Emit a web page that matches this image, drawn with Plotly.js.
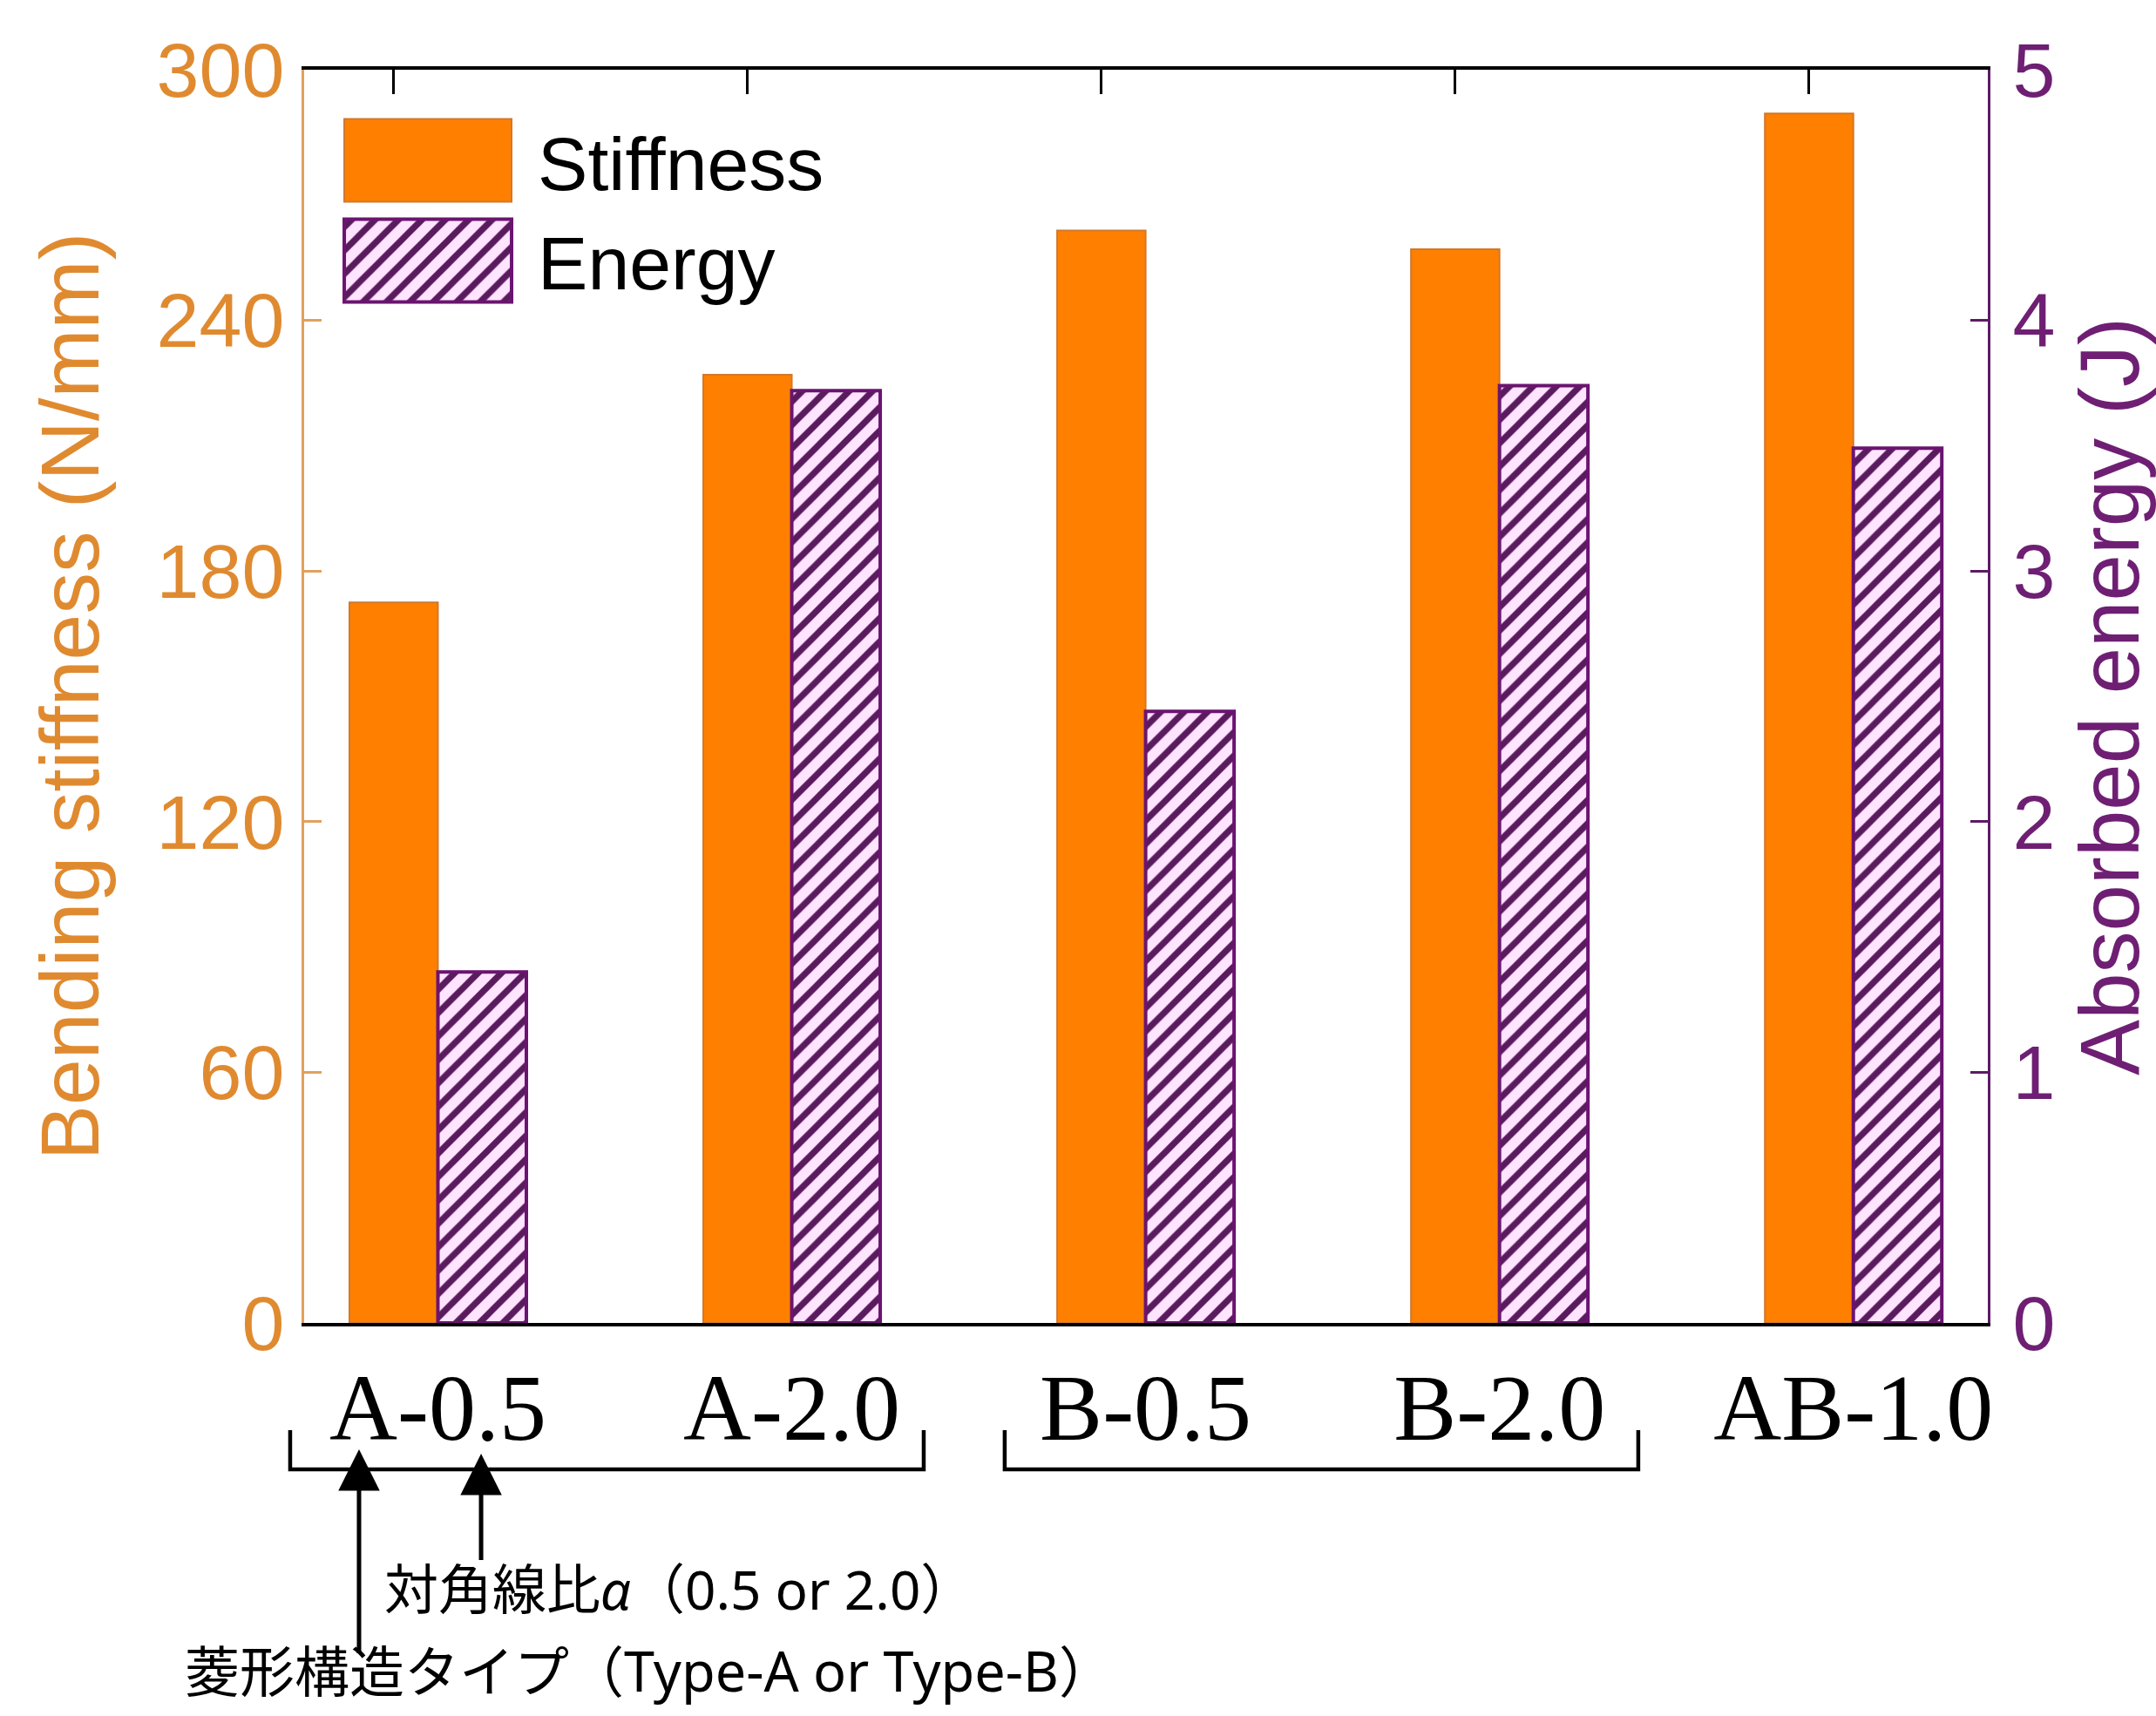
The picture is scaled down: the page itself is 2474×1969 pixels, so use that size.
<!DOCTYPE html>
<html>
<head>
<meta charset="utf-8">
<script src="https://cdn.plot.ly/plotly-3.0.1.min.js"></script>
<style>
html,body{margin:0;padding:0;background:#fff;}
#chart{width:2474px;height:1969px;}
</style>
</head>
<body>
<div id="chart"></div>
<script>
// ---- data ----
const categories = ['A-0.5', 'A-2.0', 'B-0.5', 'B-2.0', 'AB-1.0'];
const stiffness = [172.5, 227.0, 261.5, 257.0, 289.5];   // N/mm (left axis)
const energy = [1.40, 3.72, 2.44, 3.74, 3.49];           // J (right axis)
const stiffnessTicks = [0, 60, 120, 180, 240, 300];
const energyTicks = [0, 1, 2, 3, 4, 5];
const seriesNames = ['Stiffness', 'Energy'];
const noteAlpha = '対角線比<i>α</i>（0.5 or 2.0）';
const noteType = '菱形構造タイプ（Type-A or Type-B）';

// ---- styles ----
const ORANGE = '#FF8000';
const ORANGE_EDGE = '#D0782E';
const ORANGE_AXIS = '#E2A05E';
const ORANGE_TEXT = '#E08A30';
const PURPLE = '#6A1470';
const PURPLE_AXIS = '#5E1A66';
const PURPLE_TEXT = '#6E1F73';
const barW = 0.25;
const xRange = [-0.378, 4.38];
const sans = 'Liberation Sans, Arial, sans-serif';
const serif = 'Liberation Serif, Times New Roman, serif';
const jp = 'Noto Sans, Noto Sans CJK JP, sans-serif';

const data = [
  {
    // bottom axis: categories at the centre of each bar pair
    type: 'bar', name: seriesNames[0], x: categories, y: stiffness,
    xaxis: 'x', yaxis: 'y',
    width: barW, offset: -barW,
    marker: {color: ORANGE, line: {color: ORANGE_EDGE, width: 2}}
  },
  {
    // top axis: categories at the centre of each stiffness bar (tick marks there)
    type: 'bar', name: seriesNames[1], x: categories, y: energy,
    xaxis: 'x2', yaxis: 'y2',
    width: barW, offset: barW / 2,
    marker: {
      color: '#FFE4FF',
      line: {color: PURPLE, width: 4},
      pattern: {shape: '/', bgcolor: '#FFE4FF', fgcolor: '#5A1A5E', size: 19, solidity: 0.38, fillmode: 'replace'}
    }
  }
];

const layout = {
  width: 2474, height: 1969,
  paper_bgcolor: '#fff', plot_bgcolor: '#fff',
  margin: {l: 349, r: 193, t: 80, b: 451, pad: 0},
  barmode: 'overlay',
  showlegend: true,
  legend: {
    x: 0.0083, y: 0.971, xanchor: 'left', yanchor: 'top',
    bgcolor: 'rgba(0,0,0,0)', borderwidth: 0,
    font: {family: sans, size: 86, color: '#000'},
    itemwidth: 242, valign: 'middle', tracegroupgap: 0
  },
  xaxis: {
    type: 'category', categoryarray: categories, range: xRange,
    showline: true, linecolor: '#000', linewidth: 4, mirror: true,
    ticks: '', showgrid: false, zeroline: false,
    tickfont: {family: serif, size: 108, color: '#000'},
    ticklabelstandoff: 0
  },
  xaxis2: {
    type: 'category', categoryarray: categories, overlaying: 'x', side: 'top', anchor: 'y2',
    range: xRange.map(v => v + barW / 2),
    showline: false, showticklabels: false, showgrid: false, zeroline: false,
    ticks: 'inside', ticklen: 28, tickwidth: 3, tickcolor: '#000'
  },
  yaxis: {
    range: [0, 300], tickvals: stiffnessTicks,
    showline: true, linecolor: ORANGE_AXIS, linewidth: 3,
    ticks: 'inside', ticklen: 20, tickwidth: 3, tickcolor: ORANGE_AXIS,
    showgrid: false, zeroline: false,
    tickfont: {family: sans, size: 88, color: ORANGE_TEXT},
    ticklabelstandoff: 2,
    title: {text: 'Bending stiffness (N/mm)', font: {family: sans, size: 95, color: ORANGE_TEXT}, standoff: 35}
  },
  yaxis2: {
    overlaying: 'y', side: 'right', anchor: 'x2',
    range: [0, 5], tickvals: energyTicks,
    showline: true, linecolor: PURPLE_AXIS, linewidth: 3,
    ticks: 'inside', ticklen: 20, tickwidth: 3, tickcolor: PURPLE_AXIS,
    showgrid: false, zeroline: false,
    tickfont: {family: sans, size: 88, color: PURPLE_TEXT},
    ticklabelstandoff: 8,
    title: {text: 'Absorbed energy (J)', font: {family: sans, size: 96, color: PURPLE_TEXT}, standoff: 58}
  },
  shapes: [
    {type: 'path', xref: 'paper', yref: 'paper', path: 'M -0.0083,-0.0855 L -0.0083,-0.1168 L 0.368,-0.1168 L 0.368,-0.0855', line: {color: '#000', width: 4.5}},
    {type: 'path', xref: 'paper', yref: 'paper', path: 'M 0.4161,-0.0855 L 0.4161,-0.1168 L 0.7924,-0.1168 L 0.7924,-0.0855', line: {color: '#000', width: 4.5}}
  ],
  annotations: [
    {xref: 'paper', yref: 'paper', x: 0.0326, y: -0.1008, showarrow: true, ax: 0, ay: 244,
     arrowhead: 2, arrowsize: 1.9, arrowwidth: 5, arrowcolor: '#000', standoff: 0, startstandoff: 0},
    {xref: 'paper', yref: 'paper', x: 0.1051, y: -0.1043, showarrow: true, ax: 0, ay: 132,
     arrowhead: 2, arrowsize: 1.9, arrowwidth: 5, arrowcolor: '#000', standoff: 0, startstandoff: 0},
    {xref: 'paper', yref: 'paper', x: 0.0466, y: -0.2121, xanchor: 'left', yanchor: 'middle', showarrow: false,
     text: noteAlpha, font: {family: jp, size: 62, color: '#000'}},
    {xref: 'paper', yref: 'paper', x: -0.0719, y: -0.277, xanchor: 'left', yanchor: 'middle', showarrow: false,
     text: noteType, font: {family: jp, size: 63, color: '#000'}}
  ]
};

Plotly.newPlot('chart', data, layout, {displayModeBar: false, staticPlot: true}).then(gd => {
  // enlarge the legend swatches to match the reference key
  const W = 192, H = 95;
  const legendPaths = gd.querySelectorAll('.legend .legendpoints path');
  legendPaths.forEach(p => {
    p.setAttribute('d', 'M' + (W / 2) + ',' + (H / 2) + 'H' + (-W / 2) + 'V' + (-H / 2) + 'H' + (W / 2) + 'Z');
  });
  // use the same hatch density in the key as in the bars
  let barFill = null;
  gd.querySelectorAll('.barlayer path').forEach(p => {
    const f = p.style.fill || '';
    if (!barFill && f.indexOf('url') >= 0) barFill = f;
  });
  if (barFill) {
    legendPaths.forEach(p => {
      const f = p.style.fill || '';
      if (f.indexOf('url') >= 0) p.style.fill = barFill;
    });
  }
});
</script>
</body>
</html>
